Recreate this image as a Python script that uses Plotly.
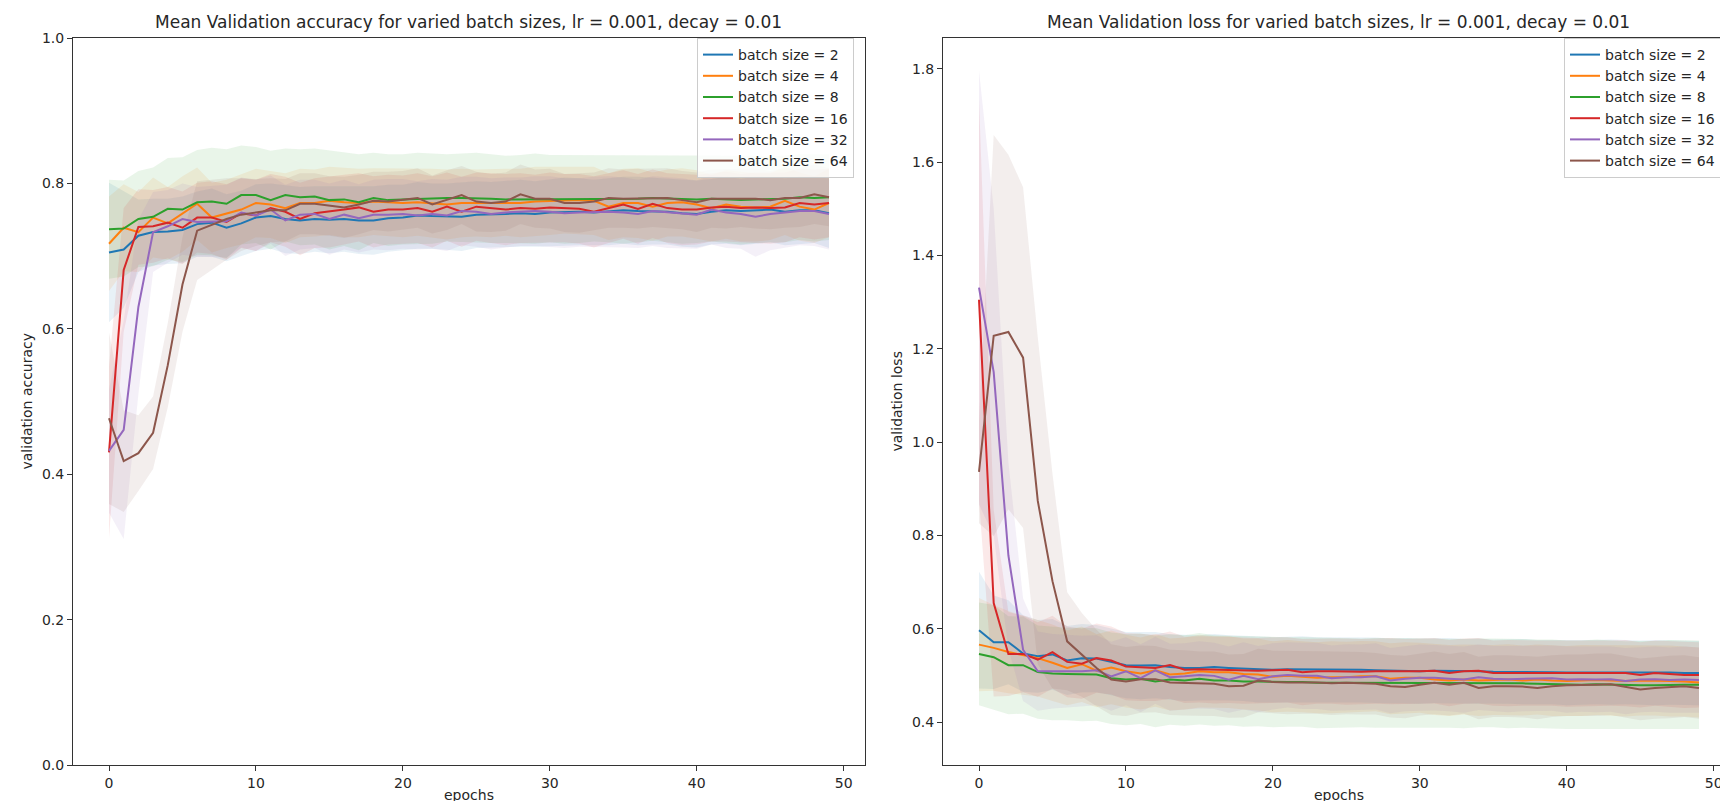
import numpy as np
import plotly.graph_objects as go

epochs = list(range(50))
batch_sizes = [2, 4, 8, 16, 32, 64]
colors = ["#1f77b4", "#ff7f0e", "#2ca02c", "#d62728", "#9467bd", "#8c564b"]

# ---------------- validation accuracy (means) ----------------
acc_bs2 = [0.705, 0.709, 0.728, 0.733, 0.734, 0.736, 0.744, 0.746, 0.739, 0.745,
           0.753, 0.755, 0.751, 0.749, 0.751, 0.750, 0.751, 0.749, 0.749, 0.752,
           0.753, 0.756, 0.755, 0.754, 0.754, 0.757, 0.757, 0.758, 0.759, 0.758,
           0.760, 0.761, 0.761, 0.760, 0.761, 0.763, 0.762, 0.762, 0.761, 0.759,
           0.758, 0.761, 0.763, 0.762, 0.763, 0.764, 0.761, 0.763, 0.763, 0.759]
acc_bs4 = [0.717, 0.739, 0.733, 0.753, 0.745, 0.758, 0.772, 0.753, 0.758, 0.764,
           0.773, 0.771, 0.766, 0.773, 0.773, 0.776, 0.774, 0.773, 0.775, 0.774,
           0.773, 0.774, 0.773, 0.771, 0.773, 0.773, 0.773, 0.774, 0.773, 0.775,
           0.776, 0.777, 0.777, 0.776, 0.768, 0.773, 0.773, 0.768, 0.773, 0.774,
           0.771, 0.766, 0.771, 0.768, 0.767, 0.768, 0.776, 0.768, 0.764, 0.773]
acc_bs8 = [0.737, 0.738, 0.751, 0.754, 0.765, 0.764, 0.774, 0.775, 0.772, 0.784,
           0.784, 0.777, 0.784, 0.781, 0.782, 0.777, 0.778, 0.774, 0.780, 0.777,
           0.778, 0.779, 0.779, 0.780, 0.780, 0.780, 0.779, 0.778, 0.778, 0.779,
           0.779, 0.778, 0.778, 0.779, 0.779, 0.778, 0.779, 0.780, 0.779, 0.778,
           0.778, 0.779, 0.778, 0.777, 0.778, 0.778, 0.779, 0.781, 0.780, 0.781]
acc_bs16 = [0.430, 0.681, 0.740, 0.741, 0.746, 0.739, 0.753, 0.753, 0.747, 0.759,
            0.756, 0.766, 0.761, 0.751, 0.759, 0.761, 0.764, 0.767, 0.761, 0.764,
            0.764, 0.766, 0.761, 0.768, 0.761, 0.768, 0.766, 0.764, 0.766, 0.765,
            0.767, 0.766, 0.765, 0.761, 0.766, 0.771, 0.765, 0.772, 0.766, 0.764,
            0.764, 0.767, 0.768, 0.766, 0.767, 0.766, 0.767, 0.773, 0.771, 0.773]
acc_bs32 = [0.432, 0.461, 0.630, 0.733, 0.741, 0.751, 0.747, 0.747, 0.748, 0.760,
            0.756, 0.764, 0.749, 0.757, 0.758, 0.751, 0.757, 0.752, 0.757, 0.757,
            0.758, 0.756, 0.758, 0.756, 0.762, 0.761, 0.758, 0.760, 0.761, 0.762,
            0.761, 0.759, 0.760, 0.761, 0.761, 0.760, 0.758, 0.762, 0.760, 0.759,
            0.757, 0.764, 0.760, 0.758, 0.754, 0.758, 0.760, 0.762, 0.762, 0.758]
acc_bs64 = [0.477, 0.418, 0.429, 0.457, 0.550, 0.661, 0.735, 0.743, 0.751, 0.757,
            0.760, 0.763, 0.763, 0.772, 0.772, 0.769, 0.767, 0.771, 0.776, 0.775,
            0.777, 0.780, 0.771, 0.777, 0.784, 0.775, 0.773, 0.775, 0.785, 0.779,
            0.779, 0.773, 0.773, 0.775, 0.780, 0.779, 0.779, 0.780, 0.780, 0.777,
            0.774, 0.779, 0.779, 0.780, 0.779, 0.777, 0.780, 0.780, 0.785, 0.781]

# ---------------- validation accuracy (std) ----------------
acc_std_bs2 = [0.096, 0.080, 0.050, 0.046, 0.045, 0.046, 0.045, 0.047, 0.046, 0.045,
               0.046, 0.045, 0.047, 0.046, 0.045, 0.046, 0.045, 0.046, 0.047, 0.046,
               0.045, 0.046, 0.045, 0.046, 0.047, 0.046, 0.045, 0.046, 0.046, 0.045,
               0.046, 0.047, 0.046, 0.045, 0.046, 0.046, 0.047, 0.046, 0.045, 0.046,
               0.046, 0.045, 0.046, 0.047, 0.046, 0.045, 0.046, 0.046, 0.045, 0.048]
acc_std_bs4 = [0.065, 0.060, 0.055, 0.055, 0.050, 0.052, 0.050, 0.048, 0.047, 0.048,
               0.047, 0.046, 0.048, 0.047, 0.046, 0.047, 0.048, 0.047, 0.046, 0.047,
               0.047, 0.046, 0.047, 0.048, 0.047, 0.046, 0.047, 0.046, 0.047, 0.048,
               0.047, 0.046, 0.047, 0.047, 0.046, 0.047, 0.048, 0.047, 0.046, 0.047,
               0.047, 0.046, 0.047, 0.048, 0.047, 0.046, 0.047, 0.047, 0.046, 0.047]
acc_std_bs8 = [0.068, 0.066, 0.066, 0.068, 0.070, 0.072, 0.072, 0.074, 0.075, 0.068,
               0.066, 0.068, 0.064, 0.066, 0.066, 0.068, 0.064, 0.066, 0.062, 0.063,
               0.062, 0.063, 0.062, 0.060, 0.061, 0.062, 0.061, 0.060, 0.061, 0.062,
               0.060, 0.061, 0.060, 0.059, 0.060, 0.061, 0.060, 0.059, 0.060, 0.061,
               0.060, 0.059, 0.060, 0.061, 0.060, 0.059, 0.060, 0.059, 0.060, 0.059]
acc_std_bs16 = [0.118, 0.085, 0.052, 0.050, 0.049, 0.050, 0.048, 0.050, 0.052, 0.048,
                0.049, 0.047, 0.048, 0.050, 0.048, 0.049, 0.048, 0.047, 0.049, 0.048,
                0.047, 0.048, 0.049, 0.047, 0.048, 0.047, 0.048, 0.049, 0.048, 0.047,
                0.048, 0.047, 0.048, 0.049, 0.048, 0.047, 0.048, 0.047, 0.048, 0.049,
                0.048, 0.047, 0.048, 0.047, 0.048, 0.049, 0.048, 0.047, 0.048, 0.047]
acc_std_bs32 = [0.085, 0.150, 0.120, 0.055, 0.050, 0.049, 0.048, 0.049, 0.050, 0.048,
                0.049, 0.047, 0.049, 0.048, 0.047, 0.049, 0.048, 0.047, 0.048, 0.049,
                0.048, 0.047, 0.048, 0.049, 0.047, 0.048, 0.049, 0.048, 0.047, 0.048,
                0.049, 0.048, 0.047, 0.048, 0.049, 0.048, 0.047, 0.048, 0.049, 0.048,
                0.047, 0.048, 0.049, 0.048, 0.055, 0.050, 0.048, 0.047, 0.048, 0.049]
acc_std_bs64 = [0.118, 0.070, 0.052, 0.050, 0.058, 0.065, 0.068, 0.062, 0.056, 0.050,
                0.046, 0.044, 0.043, 0.042, 0.042, 0.041, 0.042, 0.041, 0.040, 0.041,
                0.040, 0.041, 0.040, 0.041, 0.040, 0.041, 0.040, 0.040, 0.041, 0.040,
                0.041, 0.040, 0.041, 0.040, 0.041, 0.040, 0.041, 0.040, 0.041, 0.040,
                0.041, 0.040, 0.041, 0.040, 0.041, 0.040, 0.041, 0.040, 0.041, 0.040]

# ---------------- validation loss (means) ----------------
loss_bs2 = [0.597, 0.571, 0.571, 0.547, 0.541, 0.545, 0.532, 0.537, 0.536, 0.529,
            0.522, 0.521, 0.522, 0.518, 0.516, 0.516, 0.518, 0.516, 0.515, 0.513,
            0.512, 0.513, 0.513, 0.512, 0.512, 0.512, 0.512, 0.511, 0.510, 0.510,
            0.509, 0.510, 0.510, 0.509, 0.509, 0.508, 0.508, 0.508, 0.507, 0.507,
            0.506, 0.506, 0.507, 0.507, 0.507, 0.506, 0.506, 0.506, 0.505, 0.505]
loss_bs4 = [0.566, 0.559, 0.550, 0.543, 0.537, 0.527, 0.516, 0.524, 0.510, 0.517,
            0.509, 0.504, 0.511, 0.502, 0.504, 0.509, 0.507, 0.507, 0.503, 0.502,
            0.497, 0.499, 0.497, 0.495, 0.496, 0.496, 0.498, 0.498, 0.493, 0.495,
            0.495, 0.491, 0.489, 0.491, 0.489, 0.490, 0.491, 0.489, 0.491, 0.489,
            0.488, 0.489, 0.490, 0.489, 0.488, 0.489, 0.489, 0.488, 0.487, 0.485]
loss_bs8 = [0.546, 0.539, 0.522, 0.522, 0.507, 0.504, 0.503, 0.502, 0.502, 0.494,
            0.491, 0.493, 0.487, 0.491, 0.489, 0.493, 0.489, 0.489, 0.487, 0.487,
            0.486, 0.486, 0.486, 0.484, 0.484, 0.484, 0.484, 0.484, 0.484, 0.484,
            0.484, 0.484, 0.483, 0.483, 0.484, 0.484, 0.483, 0.483, 0.482, 0.481,
            0.480, 0.480, 0.481, 0.480, 0.479, 0.479, 0.479, 0.480, 0.480, 0.480]
loss_bs16 = [1.305, 0.655, 0.546, 0.546, 0.534, 0.550, 0.529, 0.525, 0.537, 0.532,
             0.519, 0.517, 0.516, 0.522, 0.512, 0.513, 0.512, 0.512, 0.510, 0.510,
             0.511, 0.512, 0.507, 0.509, 0.509, 0.508, 0.508, 0.509, 0.509, 0.508,
             0.509, 0.510, 0.505, 0.509, 0.510, 0.505, 0.505, 0.505, 0.505, 0.505,
             0.504, 0.504, 0.504, 0.505, 0.505, 0.501, 0.505, 0.503, 0.501, 0.501]
loss_bs32 = [1.331, 1.150, 0.757, 0.555, 0.509, 0.509, 0.509, 0.509, 0.511, 0.498,
             0.509, 0.494, 0.511, 0.496, 0.498, 0.501, 0.499, 0.491, 0.499, 0.492,
             0.498, 0.501, 0.499, 0.499, 0.494, 0.496, 0.496, 0.498, 0.489, 0.493,
             0.495, 0.495, 0.493, 0.491, 0.496, 0.493, 0.492, 0.493, 0.493, 0.494,
             0.491, 0.492, 0.491, 0.492, 0.488, 0.491, 0.492, 0.490, 0.491, 0.490]
loss_bs64 = [0.936, 1.228, 1.236, 1.181, 0.874, 0.702, 0.573, 0.544, 0.516, 0.491,
             0.487, 0.492, 0.492, 0.485, 0.484, 0.482, 0.482, 0.477, 0.478, 0.489,
             0.486, 0.485, 0.485, 0.485, 0.483, 0.484, 0.483, 0.482, 0.477, 0.475,
             0.480, 0.484, 0.480, 0.484, 0.473, 0.477, 0.477, 0.476, 0.473, 0.477,
             0.479, 0.479, 0.480, 0.481, 0.475, 0.470, 0.473, 0.475, 0.477, 0.473]

# ---------------- validation loss (std) ----------------
loss_std_bs2 = [0.125, 0.100, 0.090, 0.082, 0.078, 0.076, 0.074, 0.073, 0.072, 0.072,
                0.071, 0.072, 0.071, 0.070, 0.071, 0.070, 0.071, 0.070, 0.070, 0.071,
                0.070, 0.070, 0.071, 0.070, 0.070, 0.069, 0.070, 0.070, 0.069, 0.070,
                0.070, 0.069, 0.070, 0.069, 0.070, 0.069, 0.069, 0.070, 0.069, 0.069,
                0.070, 0.069, 0.069, 0.070, 0.069, 0.069, 0.070, 0.069, 0.069, 0.069]
loss_std_bs4 = [0.100, 0.092, 0.088, 0.085, 0.082, 0.082, 0.080, 0.081, 0.078, 0.079,
                0.078, 0.077, 0.078, 0.077, 0.077, 0.078, 0.077, 0.077, 0.076, 0.077,
                0.076, 0.077, 0.076, 0.076, 0.077, 0.076, 0.076, 0.075, 0.076, 0.076,
                0.075, 0.076, 0.076, 0.075, 0.076, 0.075, 0.076, 0.075, 0.075, 0.076,
                0.075, 0.076, 0.075, 0.075, 0.076, 0.075, 0.075, 0.076, 0.075, 0.075]
loss_std_bs8 = [0.110, 0.112, 0.105, 0.104, 0.100, 0.100, 0.099, 0.100, 0.099, 0.098,
                0.098, 0.097, 0.098, 0.097, 0.097, 0.098, 0.097, 0.096, 0.097, 0.096,
                0.097, 0.096, 0.096, 0.097, 0.096, 0.096, 0.095, 0.096, 0.096, 0.095,
                0.096, 0.095, 0.095, 0.096, 0.095, 0.095, 0.096, 0.095, 0.095, 0.096,
                0.095, 0.095, 0.096, 0.095, 0.094, 0.095, 0.095, 0.096, 0.095, 0.095]
loss_std_bs16 = [0.430, 0.200, 0.090, 0.082, 0.080, 0.078, 0.076, 0.075, 0.074, 0.073,
                 0.072, 0.072, 0.071, 0.072, 0.071, 0.071, 0.072, 0.071, 0.071, 0.070,
                 0.071, 0.070, 0.071, 0.070, 0.070, 0.071, 0.070, 0.070, 0.071, 0.070,
                 0.070, 0.070, 0.071, 0.070, 0.070, 0.070, 0.071, 0.070, 0.070, 0.070,
                 0.071, 0.070, 0.070, 0.070, 0.071, 0.070, 0.070, 0.070, 0.071, 0.070]
loss_std_bs32 = [0.465, 0.350, 0.200, 0.110, 0.085, 0.080, 0.078, 0.076, 0.075, 0.074,
                 0.073, 0.073, 0.072, 0.072, 0.071, 0.072, 0.071, 0.071, 0.072, 0.071,
                 0.071, 0.070, 0.071, 0.071, 0.070, 0.071, 0.070, 0.071, 0.070, 0.070,
                 0.071, 0.070, 0.070, 0.071, 0.070, 0.070, 0.071, 0.070, 0.070, 0.070,
                 0.071, 0.070, 0.070, 0.070, 0.071, 0.070, 0.070, 0.070, 0.071, 0.070]
loss_std_bs64 = [0.110, 0.430, 0.380, 0.365, 0.350, 0.230, 0.105, 0.090, 0.082, 0.076,
                 0.074, 0.072, 0.071, 0.070, 0.070, 0.069, 0.069, 0.068, 0.068, 0.068,
                 0.067, 0.068, 0.067, 0.067, 0.068, 0.067, 0.067, 0.066, 0.067, 0.067,
                 0.066, 0.067, 0.066, 0.066, 0.067, 0.066, 0.066, 0.066, 0.067, 0.066,
                 0.066, 0.066, 0.067, 0.066, 0.066, 0.066, 0.066, 0.067, 0.066, 0.066]

acc_means = [acc_bs2, acc_bs4, acc_bs8, acc_bs16, acc_bs32, acc_bs64]
acc_stds = [acc_std_bs2, acc_std_bs4, acc_std_bs8, acc_std_bs16, acc_std_bs32, acc_std_bs64]
loss_means = [loss_bs2, loss_bs4, loss_bs8, loss_bs16, loss_bs32, loss_bs64]
loss_stds = [loss_std_bs2, loss_std_bs4, loss_std_bs8, loss_std_bs16, loss_std_bs32, loss_std_bs64]

acc_yticks = [0.0, 0.2, 0.4, 0.6, 0.8, 1.0]
loss_yticks = [0.4, 0.6, 0.8, 1.0, 1.2, 1.4, 1.6, 1.8]
x_ticks = [0, 10, 20, 30, 40, 50]

FONT = "DejaVu Sans"
TXT = "#262626"
FS = 14


def rgba(hex_color, a):
    h = hex_color.lstrip("#")
    r, g, b = int(h[0:2], 16), int(h[2:4], 16), int(h[4:6], 16)
    return f"rgba({r},{g},{b},{a})"


fig = go.Figure()

panels = [
    ("x", "y", acc_means, acc_stds, "legend"),
    ("x2", "y2", loss_means, loss_stds, "legend2"),
]

for xa, ya, means, stds, leg in panels:
    # shaded bands (mean +/- std)
    for bs, col, m, s in zip(batch_sizes, colors, means, stds):
        m_arr = np.array(m)
        s_arr = np.array(s)
        fig.add_trace(go.Scatter(x=epochs, y=m_arr + s_arr, mode="lines",
                                 line=dict(width=0, color=col), showlegend=False,
                                 hoverinfo="skip", xaxis=xa, yaxis=ya))
        fig.add_trace(go.Scatter(x=epochs, y=m_arr - s_arr, mode="lines",
                                 line=dict(width=0, color=col), fill="tonexty",
                                 fillcolor=rgba(col, 0.1), showlegend=False,
                                 hoverinfo="skip", xaxis=xa, yaxis=ya))
    # mean lines
    for bs, col, m in zip(batch_sizes, colors, means):
        fig.add_trace(go.Scatter(x=epochs, y=m, mode="lines",
                                 line=dict(width=2, color=col),
                                 name=f"batch size = {bs}", legend=leg,
                                 xaxis=xa, yaxis=ya))

W, H = 1728, 801
top_px, bot_px = 30, 757
dom_y = [1 - bot_px / H, 1 - top_px / H]
dom_x1 = [65 / W, 857 / W]
dom_x2 = [935 / W, 1727 / W]

axis_common = dict(showline=True, linecolor="#333333", linewidth=1, mirror=True,
                   ticks="outside", ticklen=5, tickwidth=1, tickcolor="#333333",
                   showgrid=False, zeroline=False,
                   tickfont=dict(family=FONT, size=FS, color=TXT), automargin=False)

legend_common = dict(bgcolor="rgba(255,255,255,0.8)", bordercolor="#cccccc", borderwidth=1,
                     font=dict(family=FONT, size=FS, color=TXT), xanchor="right",
                     yanchor="top", tracegroupgap=0, traceorder="normal")

fig.update_layout(
    width=W, height=H,
    margin=dict(l=0, r=0, t=0, b=0),
    paper_bgcolor="white", plot_bgcolor="white",
    font=dict(family=FONT, size=FS, color=TXT),
    xaxis=dict(domain=dom_x1, range=[-2.45, 51.45], tickvals=x_ticks, anchor="y", **axis_common),
    yaxis=dict(domain=dom_y, range=[0, 1.0], tickvals=acc_yticks, tickformat=".1f",
               anchor="x", **axis_common),
    xaxis2=dict(domain=dom_x2, range=[-2.45, 51.45], tickvals=x_ticks, anchor="y2", **axis_common),
    yaxis2=dict(domain=dom_y, range=[0.308, 1.866], tickvals=loss_yticks, tickformat=".1f",
                anchor="x2", **axis_common),
    legend=dict(x=846 / W, y=1 - 30 / H, **legend_common),
    legend2=dict(x=1713 / W, y=1 - 30 / H, **legend_common),
    showlegend=True,
)

titles = [
    ("Mean Validation accuracy for varied batch sizes, lr = 0.001, decay = 0.01", dom_x1),
    ("Mean Validation loss for varied batch sizes, lr = 0.001, decay = 0.01", dom_x2),
]
for text, dom in titles:
    fig.add_annotation(text=text, xref="paper", yref="paper", x=(dom[0] + dom[1]) / 2,
                       y=1 - 14 / H, xanchor="center", yanchor="middle", showarrow=False,
                       font=dict(family=FONT, size=17, color=TXT))
    fig.add_annotation(text="epochs", xref="paper", yref="paper", x=(dom[0] + dom[1]) / 2,
                       y=1 - 787 / H, xanchor="center", yanchor="middle", showarrow=False,
                       font=dict(family=FONT, size=FS, color=TXT))

fig.add_annotation(text="validation accuracy", xref="paper", yref="paper", x=18 / W,
                   y=(dom_y[0] + dom_y[1]) / 2, textangle=-90, xanchor="center",
                   yanchor="middle", showarrow=False, font=dict(family=FONT, size=FS, color=TXT))
fig.add_annotation(text="validation loss", xref="paper", yref="paper", x=888 / W,
                   y=(dom_y[0] + dom_y[1]) / 2, textangle=-90, xanchor="center",
                   yanchor="middle", showarrow=False, font=dict(family=FONT, size=FS, color=TXT))

fig.write_html("out.html")
